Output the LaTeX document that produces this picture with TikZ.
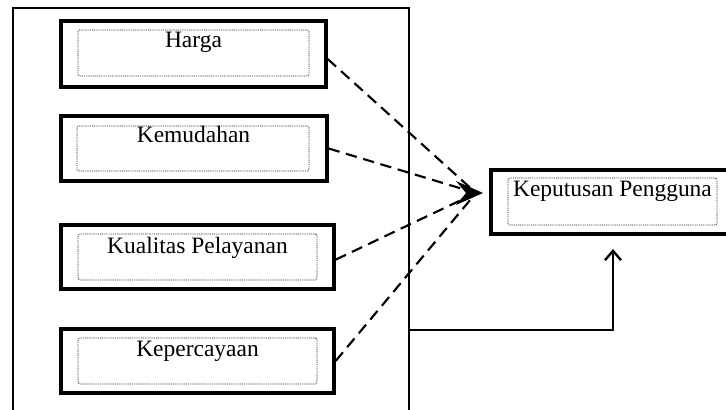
\documentclass[tikz,border=0pt]{standalone}
\usepackage{fontspec}
\setmainfont{Liberation Serif}
\usetikzlibrary{fit,arrows.meta}
\begin{document}
\begin{tikzpicture}[x=0.75pt,y=-0.75pt,
  bigbox/.style={draw=black,line width=1.8pt,inner sep=0pt},
  varbox/.style={draw=black,line width=2.5pt,inner sep=0pt},
  dotbox/.style={draw=black!85,line width=0.6pt,dash pattern=on 0.7pt off 0.7pt,rounded corners=1pt,inner sep=0pt},
  lbl/.style={font=\fontsize{17.6}{20}\selectfont,inner sep=0pt,anchor=base},
  dashline/.style={line width=1.6pt,dash pattern=on 8.5pt off 5pt},
  solidline/.style={line width=1.8pt,-{Straight Barb[length=7pt,width=12pt,line width=1.8pt]}}]
\useasboundingbox (0,0) rectangle (726,410);
\clip (0,0) rectangle (726,410);
\fill[white] (0,0) rectangle (726,410);
% outer box
\node[bigbox,fit={(13,8) (409,440)}] (outer) {};
% variable boxes
\node[varbox,fit={(61,21) (326,87)}] (harga) {};
\node[dotbox,fit={(78,30) (309,76)}] (hargain) {};
\node[lbl] (hargat) at (193.5,48) {Harga};
\node[varbox,fit={(61,116) (327,181)}] (mudah) {};
\node[dotbox,fit={(77,126) (309,171)}] (mudahin) {};
\node[lbl] (mudaht) at (193.5,143) {Kemudahan};
\node[varbox,fit={(61,225) (334,289)}] (kual) {};
\node[dotbox,fit={(78,234) (317,280)}] (kualin) {};
\node[lbl] (kualt) at (197.5,253) {Kualitas Pelayanan};
\node[varbox,fit={(61,329) (334,393)}] (perc) {};
\node[dotbox,fit={(78,338) (317,384)}] (percin) {};
\node[lbl] (perct) at (197.5,356) {Kepercayaan};
% dependent box
\node[varbox,fit={(491,170) (735,234)}] (kep) {};
\node[dotbox,fit={(508,178) (717,225)}] (kepin) {};
\node[lbl] (kept) at (612.5,196) {Keputusan Pengguna};
% dashed connectors
\coordinate (tip) at (476,193);
\draw[dashline] ([yshift=-3.75pt]harga.east) -- (tip);
\draw[dashline] (mudah.east) -- (tip);
\draw[dashline] ([yshift=-2pt]kual.east) -- (tip);
\draw[dashline] (perc.east) -- (tip);
\fill (483,193) -- (456,181) -- (466,193) -- (456,205) -- cycle;
% simultaneous connector
\coordinate (c330) at (0,330);
\draw[solidline,shorten >=10pt] (outer.east |- c330) -| (kep.south);
\end{tikzpicture}
\end{document}
